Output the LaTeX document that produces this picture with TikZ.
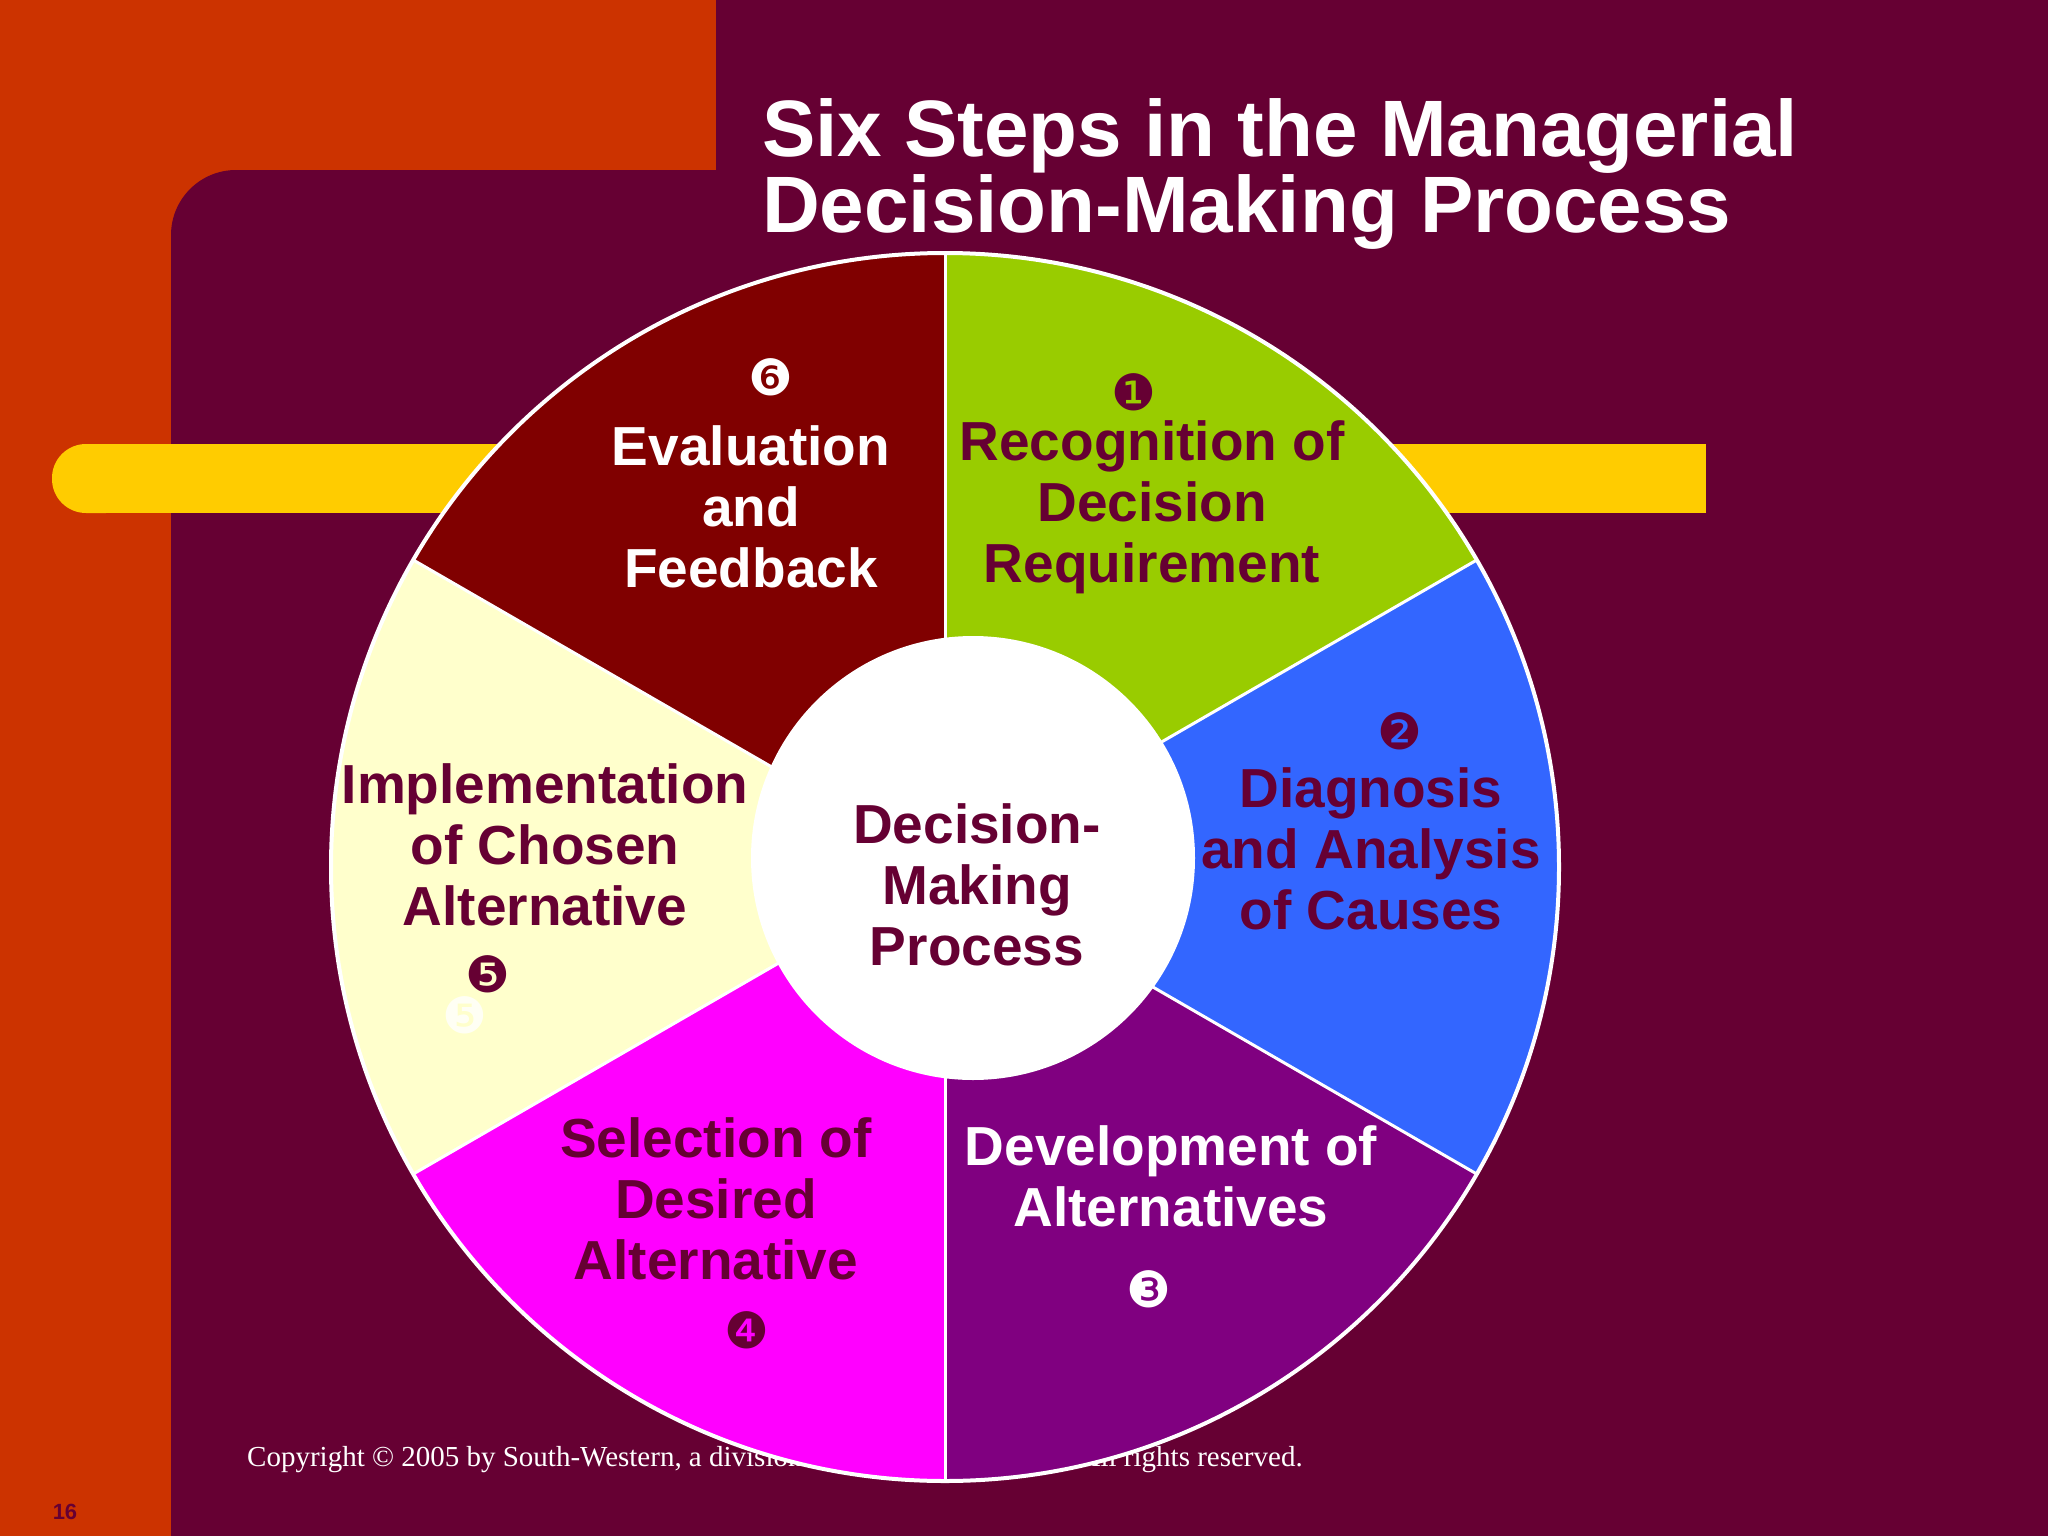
\documentclass[tikz,border=0pt]{standalone}
\usepackage{fontspec}
\setmainfont{Liberation Sans}
\newfontfamily\tms{Liberation Serif}
\newfontfamily\djsans{DejaVu Sans}
\definecolor{bgm}{HTML}{660033}
\definecolor{org}{HTML}{CC3300}
\definecolor{yel}{HTML}{FFCC00}
\definecolor{sgreen}{HTML}{99CC00}
\definecolor{sblue}{HTML}{3366FF}
\definecolor{spurp}{HTML}{800080}
\definecolor{smag}{HTML}{FF00FF}
\definecolor{sylw}{HTML}{FFFFCC}
\definecolor{sred}{HTML}{800000}
\tikzset{
 lbl/.style={font=\fontsize{55}{61}\selectfont\bfseries, align=center, text=bgm},
 num/.style={font=\fontsize{50}{50}\selectfont\djsans, text=bgm, inner sep=0pt},
}
\begin{document}
\begin{tikzpicture}[x=1pt,y=-1pt]
\useasboundingbox (0,0) rectangle (2048,1536);
\fill[org] (0,0) rectangle (2048,1536);
\fill[bgm] (716,0) rectangle (2048,1536);
\fill[bgm, rounded corners=65pt] (171,1700) -- (171,170) -- (760,170) -- (760,1700) -- cycle;
\fill[bgm] (700,170) rectangle (760,1536);
\fill[yel, rounded corners=34pt] (52,444) rectangle (140,513);
\fill[yel] (100,444) rectangle (1706,513);
\node[anchor=base west, text=white, font=\tms\fontsize{29}{29}\selectfont, inner sep=0pt] (copy) at (247,1466) {Copyright © 2005 by South-Western, a division of Thomson Learning. All rights reserved.};
\node[anchor=base, text=bgm, font=\fontsize{22}{22}\selectfont\bfseries, inner sep=0pt] (pg) at (65,1519) {16};
\node[anchor=north west, text=white, font=\fontsize{80}{76}\selectfont\bfseries, align=left, inner sep=0pt] (title) at (762,98) {Six Steps in the Managerial\\Decision-Making Process};
\coordinate (c) at (945,867);
\foreach \a/\b/\col in {-90/-30/sgreen, -30/30/sblue, 30/90/spurp, 90/150/smag, 150/210/sylw, 210/270/sred}{
  \fill[\col] (c) -- ++(\a:614) arc[start angle=\a, end angle=\b, radius=614] -- cycle;
}
\foreach \a in {30,-30,-90,210,150,90}{ \draw[white, line width=3pt] (c) -- ++(\a:614); }
\draw[white, line width=4pt] (c) circle[radius=614];
\fill[white] (973,858) circle[radius=222];
\node[lbl] (cen) at (977,885) {Decision-\\Making\\Process};
\node[lbl, text=white] (s6) at (751,507) {Evaluation\\and\\Feedback};
\node[num, text=white] (n6) at (771,377) {❻};
\node[lbl] (s1) at (1152,507) {Recognition of\\Decision\\Requirement};
\node[num] (n1) at (1134,392) {❶};
\node[lbl] (s2) at (1371,849) {Diagnosis\\and Analysis\\of Causes};
\node[num] (n2) at (1400,731) {❷};
\node[lbl] (s5) at (545,845) {Implementation\\of Chosen\\Alternative};
\node[num] (n5) at (488,974) {❺};
\node[num, text=white, opacity=0.8] (n5b) at (465,1015) {❺};
\node[lbl] (s4) at (716,1199) {Selection of\\Desired\\Alternative};
\node[num] (n4) at (747,1330) {❹};
\node[lbl, text=white] (s3) at (1171,1176) {Development of\\Alternatives};
\node[num, text=white] (n3) at (1149,1289) {❸};
\end{tikzpicture}
\end{document}
